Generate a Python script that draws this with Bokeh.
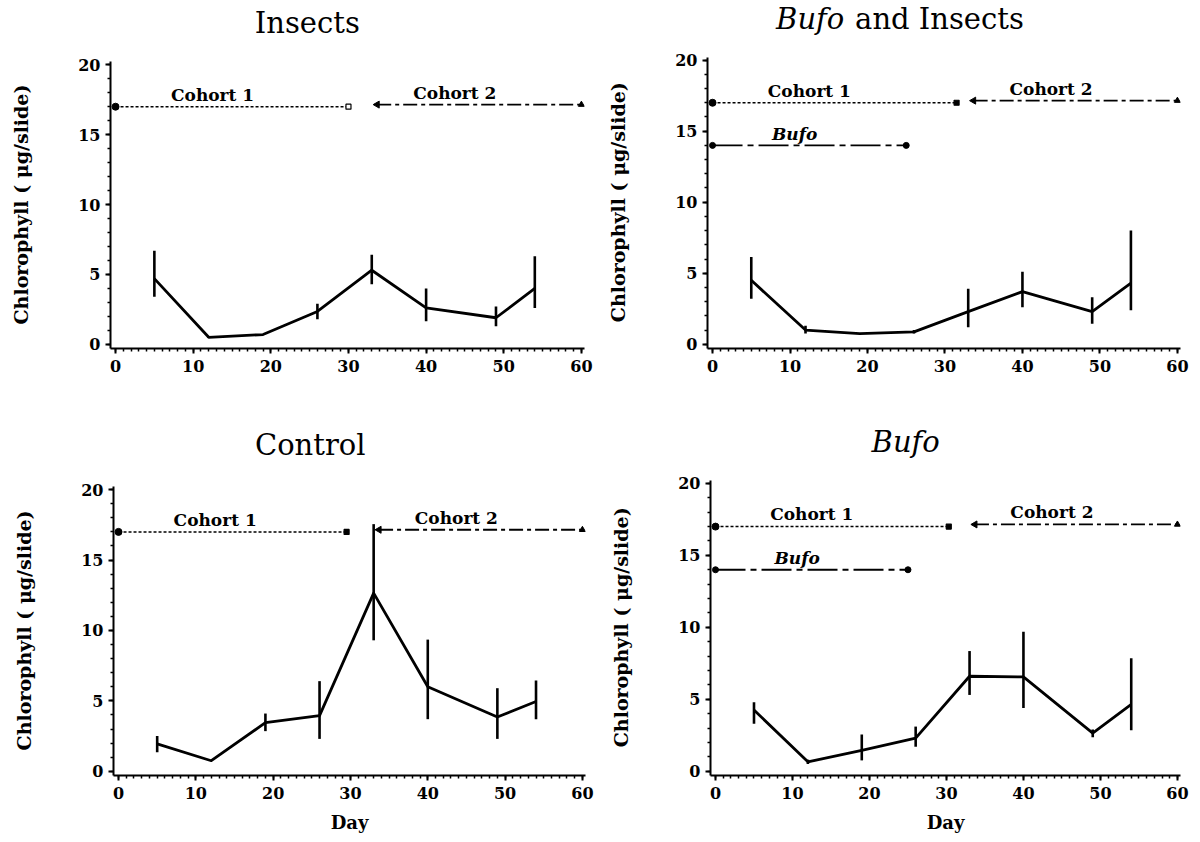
import math
from bokeh.plotting import figure
from bokeh.layouts import column, row
from bokeh.models import Label, Range1d, FixedTicker, LinearAxis
from bokeh.embed import file_html
from bokeh.resources import INLINE

# ---------------- data ----------------
days = [5, 12, 19, 26, 33, 40, 49, 54]

insects_mean = [4.7, 0.5, 0.7, 2.35, 5.3, 2.6, 1.9, 4.0]
insects_lo = [3.4, 0.45, 0.7, 1.8, 4.3, 1.65, 1.3, 2.6]
insects_hi = [6.7, 0.55, 0.7, 2.9, 6.4, 4.0, 2.7, 6.3]

bufo_insects_mean = [4.5, 1.0, 0.75, 0.87, 2.3, 3.7, 2.3, 4.3]
bufo_insects_lo = [3.2, 0.75, 0.75, 0.75, 1.2, 2.6, 1.45, 2.4]
bufo_insects_hi = [6.15, 1.3, 0.75, 1.0, 3.9, 5.1, 3.3, 8.0]

control_mean = [1.95, 0.75, 3.45, 3.95, 12.65, 6.0, 3.85, 4.95]
control_lo = [1.35, 0.75, 2.85, 2.3, 9.3, 3.7, 2.3, 3.7]
control_hi = [2.5, 0.75, 4.1, 6.4, 17.55, 9.35, 5.9, 6.45]

bufo_mean = [4.25, 0.65, 1.45, 2.3, 6.6, 6.55, 2.65, 4.65]
bufo_lo = [3.3, 0.5, 0.75, 1.7, 5.3, 4.4, 2.35, 2.85]
bufo_hi = [4.8, 0.8, 2.55, 3.1, 8.35, 9.7, 2.9, 7.85]

cohort1_days = {"insects": [0, 30], "bufo_insects": [0, 31.5], "control": [0, 29.5], "bufo": [0, 30.3]}
cohort2_days = [33.7, 60]
bufo_days = [0, 25]
cohort1_level = 17.0
cohort2_level = 17.15
bufo_level = 14.0

x_ticks = [0, 10, 20, 30, 40, 50, 60]
y_ticks = [0, 5, 10, 15, 20]
y_label = "Chlorophyll ( \u03bcg/slide)"
x_label = "Day"

SERIF = "DejaVu Serif"
Y_AXIS_BOUNDS = (-0.3, 20.2)


def make_panel(mean, lo, hi, c1_days, has_bufo, borders, ytop, xlabel, open_end=False):
    left, right, bottom = borders
    p = figure(width=600, height=420, x_range=Range1d(-0.65, 60.4), y_range=Range1d(-0.3, ytop),
               output_backend="svg", toolbar_location=None, title=None,
               min_border_left=left, min_border_right=right,
               min_border_top=0, min_border_bottom=bottom)
    p.outline_line_color = None
    p.grid.visible = False
    p.background_fill_color = "white"

    for ax in (p.xaxis[0], p.yaxis[0]):
        ax.axis_line_width = 2
        ax.axis_line_color = "black"
        ax.major_tick_line_width = 2
        ax.minor_tick_line_width = 1.5
        ax.major_tick_in = 0
        ax.major_tick_out = 5
        ax.minor_tick_in = 0
        ax.minor_tick_out = 3
        ax.major_label_text_font = SERIF
        ax.major_label_text_font_style = "bold"
        ax.major_label_text_font_size = "16px"
        ax.major_label_text_color = "black"
        ax.axis_label_text_font = SERIF
        ax.axis_label_text_font_style = "bold"
        ax.axis_label_text_color = "black"

    p.xaxis.ticker = FixedTicker(ticks=x_ticks, minor_ticks=list(range(0, 61)))
    p.yaxis.ticker = FixedTicker(ticks=y_ticks, minor_ticks=list(range(0, 21)))
    p.yaxis.bounds = Y_AXIS_BOUNDS
    p.xaxis.major_label_standoff = 6
    p.yaxis.major_label_standoff = 5
    if xlabel:
        p.xaxis.axis_label = x_label
        p.xaxis.axis_label_text_font_size = "18px"
        p.xaxis.axis_label_standoff = 10

    # y-axis title, centred on the bounded axis
    lab_ax = LinearAxis(ticker=FixedTicker(ticks=[10], minor_ticks=[]),
                        major_label_overrides={10: y_label},
                        major_label_orientation="vertical",
                        axis_line_color=None, major_tick_line_color=None, minor_tick_line_color=None,
                        major_tick_in=0, major_tick_out=0, major_label_standoff=43,
                        major_label_text_font=SERIF, major_label_text_font_style="bold",
                        major_label_text_font_size="19px", major_label_text_color="black")
    p.add_layout(lab_ax, "left")

    # cohort 1
    p.line(c1_days, [cohort1_level] * 2, line_color="black", line_width=1.5, line_dash="3 2")
    p.scatter([c1_days[0]], [cohort1_level], marker="circle", size=7, color="black")
    p.scatter([c1_days[1]], [cohort1_level], marker="square", size=5, line_color="black",
              fill_color="white" if open_end else "black", line_width=1.2)
    # cohort 2
    p.line(cohort2_days, [cohort2_level] * 2, line_color="black", line_width=1.8, line_dash="14 4 4 4")
    p.scatter([cohort2_days[0]], [cohort2_level], marker="triangle", angle=math.pi / 2,
              size=7, color="black")
    p.scatter([cohort2_days[1]], [cohort2_level], marker="triangle", size=6, color="black")

    lbl = dict(text_font=SERIF, text_font_style="bold", text_font_size="17px",
               text_align="center", text_baseline="middle", text_color="black")
    p.add_layout(Label(x=12.5, y=17.85, text="Cohort 1", **lbl))
    p.add_layout(Label(x=43.7, y=18.0, text="Cohort 2", **lbl))

    if has_bufo:
        p.line(bufo_days, [bufo_level] * 2, line_color="black", line_width=1.8, line_dash="30 5 6 5")
        p.scatter(bufo_days, [bufo_level] * 2, marker="circle", size=6, color="black")
        p.add_layout(Label(x=10.6, y=14.8, text="Bufo", text_font=SERIF,
                           text_font_style="bold italic", text_font_size="17px",
                           text_align="center", text_baseline="middle", text_color="black"))

    # data
    p.segment(days, lo, days, hi, line_color="black", line_width=2.6)
    p.line(days, mean, line_color="black", line_width=2.8, line_join="round")
    return p


title_style = dict(text_font=SERIF, text_font_size="29px", text_baseline="middle", text_color="black")

p1 = make_panel(insects_mean, insects_lo, insects_hi, cohort1_days["insects"], False,
                (110, 16, 64), 24.6, False, open_end=True)
p1.add_layout(Label(x=24.7, y=23.0, text="Insects", text_align="center", **title_style))

p2 = make_panel(bufo_insects_mean, bufo_insects_lo, bufo_insects_hi, cohort1_days["bufo_insects"], True,
                (107, 20, 72), 24.2, False)
p2.add_layout(Label(x=17.0, y=22.9, text="Bufo", text_align="right", text_font_style="italic", **title_style))
p2.add_layout(Label(x=18.4, y=22.9, text="and Insects", text_align="left", **title_style))

p3 = make_panel(control_mean, control_lo, control_hi, cohort1_days["control"], False,
                (113, 15, 61), 24.91, True)
p3.add_layout(Label(x=24.8, y=23.16, text="Control", text_align="center", **title_style))

p4 = make_panel(bufo_mean, bufo_lo, bufo_hi, cohort1_days["bufo"], True,
                (110, 20, 65), 24.375, True)
p4.add_layout(Label(x=24.7, y=22.85, text="Bufo", text_align="center", text_font_style="italic", **title_style))

layout = column(row(p1, p2, spacing=0), row(p3, p4, spacing=0), spacing=0)

open("out.html", "w").write(file_html(layout, INLINE))
